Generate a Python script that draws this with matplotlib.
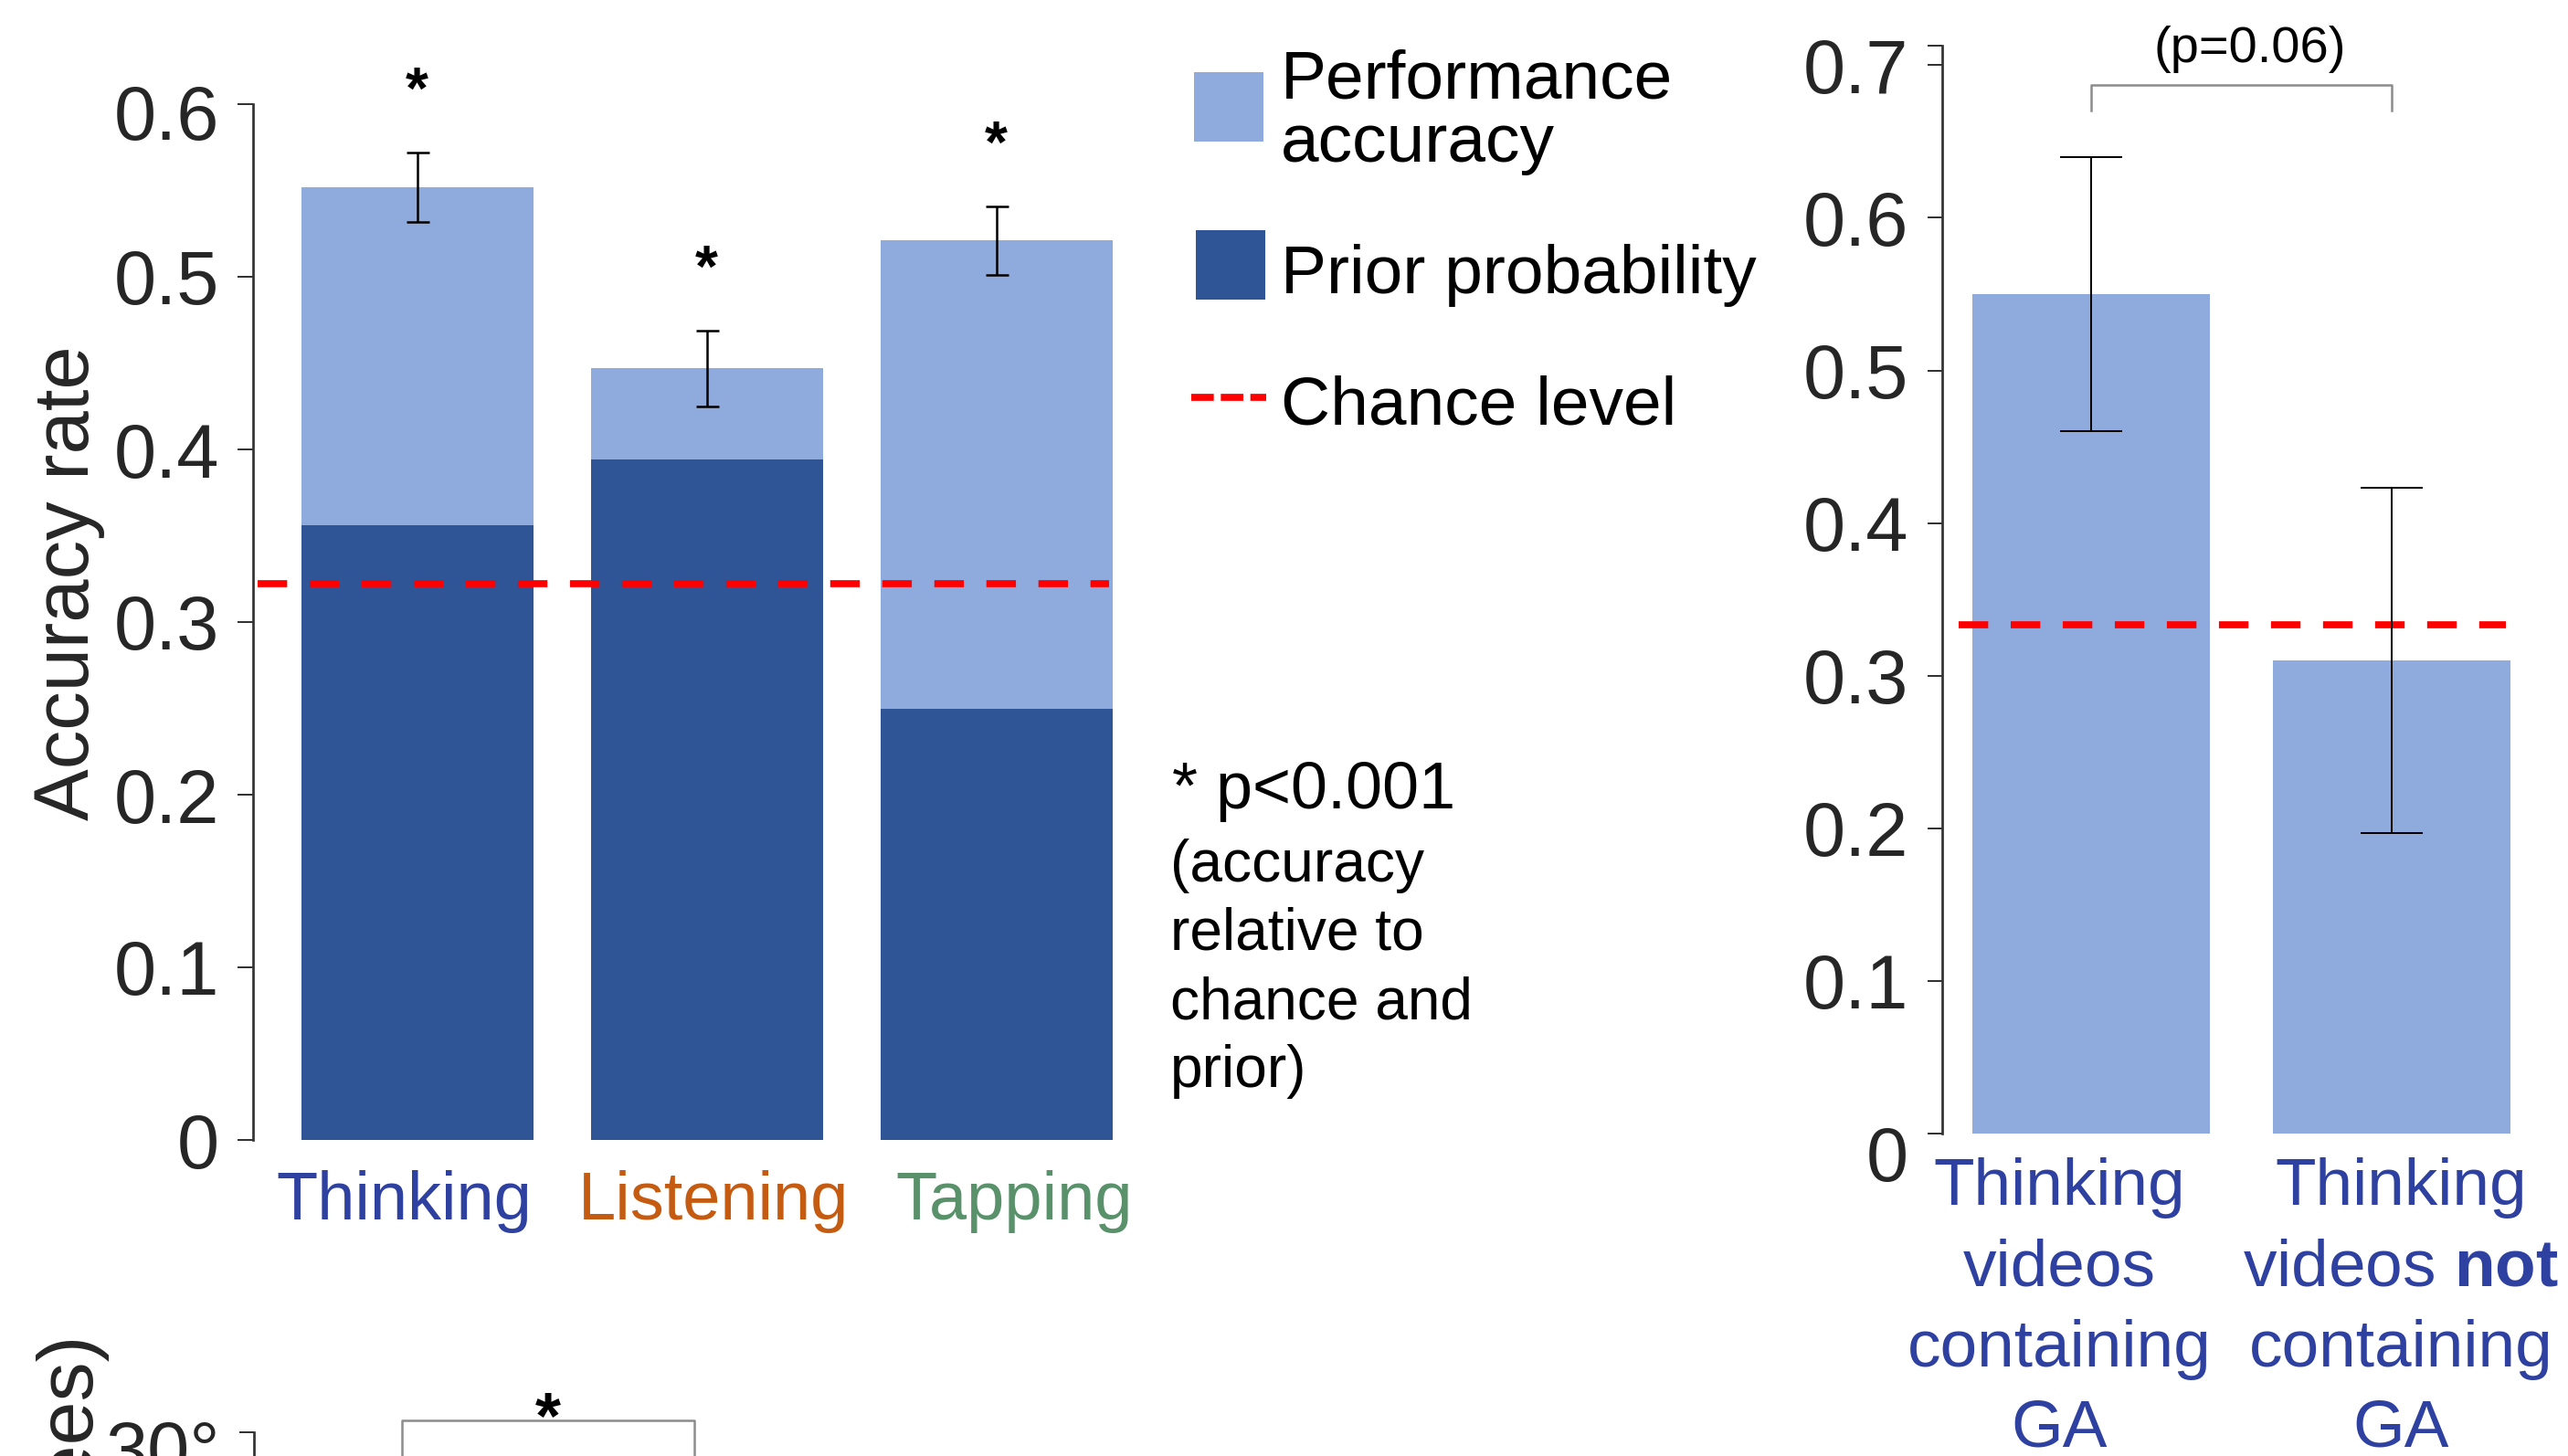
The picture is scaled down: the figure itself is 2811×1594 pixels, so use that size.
import matplotlib
matplotlib.use('Agg')
import matplotlib.pyplot as plt
from matplotlib.patches import Rectangle
from matplotlib.lines import Line2D
from matplotlib.transforms import ScaledTranslation
import numpy as np

# ------------------------- data -------------------------
tasks = ['Thinking', 'Listening', 'Tapping']
task_colors = ['#2E40A0', '#C55A11', '#58916A']
performance = [0.552, 0.447, 0.521]
perf_err = [0.020, 0.022, 0.020]
prior = [0.356, 0.394, 0.250]
chance_left = 0.322
sig_left = ['*', '*', '*']
left_yticks = [0, 0.1, 0.2, 0.3, 0.4, 0.5, 0.6]
left_yticklabels = ['0', '0.1', '0.2', '0.3', '0.4', '0.5', '0.6']

ga_labels = ['Thinking\nvideos\ncontaining\nGA',
             'Thinking\nvideos $\\mathbf{not}$\ncontaining\nGA']
ga_acc = [0.55, 0.31]
ga_err = [0.09, 0.113]
chance_right = 1 / 3
p_text = '(p=0.06)'
right_yticks = [0, 0.1, 0.2, 0.3, 0.4, 0.5, 0.6, 0.7]
right_yticklabels = ['0', '0.1', '0.2', '0.3', '0.4', '0.5', '0.6', '0.7']

bottom_yticks = [30]
bottom_yticklabels = ['30°']

legend_labels = [['Performance', 'accuracy'], ['Prior probability'], ['Chance level']]
note_head = '* p<0.001'
note_lines = ['(accuracy', 'relative to', 'chance and', 'prior)']

# ------------------------- style -------------------------
LIGHT = '#8FAADC'
DARK = '#2F5597'
TXT = '#262626'
SPINE = '#333333'

plt.rcParams['font.family'] = ['Liberation Sans', 'DejaVu Sans']
plt.rcParams['mathtext.fontset'] = 'custom'
plt.rcParams['mathtext.rm'] = 'Liberation Sans'
plt.rcParams['mathtext.bf'] = 'Liberation Sans:bold'

W, H = 2811, 1594
DPI = 100


def pt(px):
    return px * 72.0 / DPI


def fx(px):
    return px / W


def fy(py):
    return 1 - py / H


fig = plt.figure(figsize=(W / DPI, H / DPI), dpi=DPI)


def offset_labels(labels, dxs_px, dys_px):
    for lab, dx, dy in zip(labels, dxs_px, dys_px):
        lab.set_transform(lab.get_transform() +
                          ScaledTranslation(dx / DPI, -dy / DPI, fig.dpi_scale_trans))


def style_left_spine(ax):
    for s in ['top', 'right', 'bottom']:
        ax.spines[s].set_visible(False)
    ax.spines['left'].set_color(SPINE)
    ax.spines['left'].set_linewidth(pt(2.7))
    ax.patch.set_alpha(0)


# ------------------------- left panel -------------------------
xl = np.arange(len(tasks))
xl_lim = (-0.567, 2.5)
unit_l = 317
axL = fig.add_axes([fx(277), fy(1248), (xl_lim[1] - xl_lim[0]) * unit_l / W, (1248 - 114) / H])
axL.set_xlim(*xl_lim)
axL.set_ylim(0, 0.6)
axL.bar(xl, performance, width=0.8, color=LIGHT, zorder=2)
axL.bar(xl, prior, width=0.8, color=DARK, zorder=3)
axL.plot([-0.55, 2.39], [chance_left, chance_left], color='#FF0000',
         linewidth=pt(7.7), dashes=(4.2, 3.2), zorder=4)
axL.errorbar(xl, performance, yerr=perf_err, fmt='none', ecolor='black',
             elinewidth=pt(2.5), capsize=pt(12.5), capthick=pt(2.5), zorder=5)
for xi, v, e, s in zip(xl, performance, perf_err, sig_left):
    axL.annotate(s, xy=(xi, v + e), xytext=(0, pt(48)), textcoords='offset points',
                 ha='center', va='baseline', fontsize=pt(64), fontweight='bold',
                 color='black', annotation_clip=False)
style_left_spine(axL)
axL.tick_params(axis='y', direction='out', length=pt(17), width=pt(2), color=SPINE,
                labelsize=pt(83), labelcolor=TXT, pad=pt(20))
axL.tick_params(axis='x', length=0, pad=pt(33), labelsize=pt(74))
axL.set_yticks(left_yticks, labels=left_yticklabels)
axL.set_xticks(xl, labels=tasks)
for lab, c in zip(axL.get_xticklabels(), task_colors):
    lab.set_color(c)
offset_labels(axL.get_xticklabels(), [-14, 7, 19], [0, 0, 0])
offset_labels(axL.get_yticklabels(), [0] * 7, [8 if t == '0.6' else 0 for t in left_yticklabels])
axL.set_ylabel('Accuracy rate', fontsize=pt(85), color=TXT, va='baseline')
axL.yaxis.set_label_coords((97 - 277) / 972.0, (1248 - 638) / 1134.0)

# ------------------------- right panel -------------------------
xr = np.arange(len(ga_acc))
xr_lim = (-0.495, 1.55)
unit_r = 329
r_top = (1241 - 50) / 1671.0
axR = fig.add_axes([fx(2126), fy(1241), (xr_lim[1] - xr_lim[0]) * unit_r / W, (1241 - 50) / H])
axR.set_xlim(*xr_lim)
axR.set_ylim(0, r_top)
axR.bar(xr, ga_acc, width=0.79, color=LIGHT, zorder=2)
axR.plot([-0.44, 1.38], [chance_right, chance_right], color='#FF0000',
         linewidth=pt(7.7), dashes=(4.2, 3.2), zorder=3)
axR.errorbar(xr, ga_acc, yerr=ga_err, fmt='none', ecolor='black',
             elinewidth=pt(2), capsize=pt(34), capthick=pt(2), zorder=5)
axR.plot([0, 0, 1, 1], [0.670, 0.687, 0.687, 0.670], color='#8C8C8C',
         linewidth=pt(2.5), clip_on=False, zorder=6)
axR.text(0.53, 0.702, p_text, ha='center', va='baseline', fontsize=pt(56),
         color='black', clip_on=False)
style_left_spine(axR)
axR.tick_params(axis='y', which='both', direction='out', length=pt(16), width=pt(2),
                color=SPINE, labelsize=pt(83), labelcolor=TXT, pad=pt(21))
axR.tick_params(axis='x', length=0, pad=pt(26), labelsize=pt(73))
axR.set_yticks(right_yticks, labels=right_yticklabels)
axR.set_yticks([r_top], minor=True)
axR.set_xticks(xr, labels=ga_labels)
for lab in axR.get_xticklabels():
    lab.set_color('#2E40A0')
    lab.set_linespacing(1.41)
    lab.set_multialignment('center')
offset_labels(axR.get_xticklabels(), [-35, 10], [0, 0])
ylabs = axR.get_yticklabels()
offset_labels(ylabs, [0] * len(ylabs),
              [21 if t == '0' else 0 for t in right_yticklabels])

# ------------------------- bottom (cut-off) panel -------------------------
axB = fig.add_axes([fx(278), fy(1568 + 400), 0.3, 400 / H])
axB.set_ylim(0, 30)
axB.set_xlim(0, 1)
style_left_spine(axB)
axB.set_xticks([])
axB.tick_params(axis='y', direction='out', length=pt(16), width=pt(2), color=SPINE,
                labelsize=pt(83), labelcolor=TXT, pad=pt(21))
axB.set_yticks(bottom_yticks, labels=bottom_yticklabels)
offset_labels(axB.get_yticklabels(), [0], [16])

# ------------------------- overlay (legend, notes) -------------------------
ov = fig.add_axes([0, 0, 1, 1], zorder=10)
ov.set_xlim(0, W)
ov.set_ylim(H, 0)
ov.axis('off')
ov.patch.set_alpha(0)

ov.add_patch(Rectangle((1307, 79), 76, 76, facecolor=LIGHT, edgecolor='none'))
ov.add_patch(Rectangle((1309, 252), 76, 76, facecolor=DARK, edgecolor='none'))
ov.add_line(Line2D([1304, 1386], [435, 435], color='#FF0000', linewidth=pt(7.7),
                   dashes=(3.2, 1.0)))
legend_baselines = [[107, 177], [321], [464]]
for lines, bases in zip(legend_labels, legend_baselines):
    for t, b in zip(lines, bases):
        ov.text(1402, b, t, fontsize=pt(75), color='black', ha='left', va='baseline')

ov.text(1283, 885, note_head, fontsize=pt(72), color='black', ha='left', va='baseline')
for i, t in enumerate(note_lines):
    ov.text(1281, 965 + 75 * i, t, fontsize=pt(64), color='black', ha='left', va='baseline')

ov.text(97, 1456, '(degrees)', rotation=90, rotation_mode='anchor', ha='right',
        va='baseline', fontsize=pt(86), color=TXT)
ov.add_line(Line2D([440, 440, 760, 760], [1600, 1555, 1555, 1600], color='#8C8C8C',
                   linewidth=pt(2.5)))
ov.text(600, 1574, '*', ha='center', va='baseline', fontsize=pt(72), fontweight='bold',
        color='black')

fig.savefig('out.png', dpi=DPI)
